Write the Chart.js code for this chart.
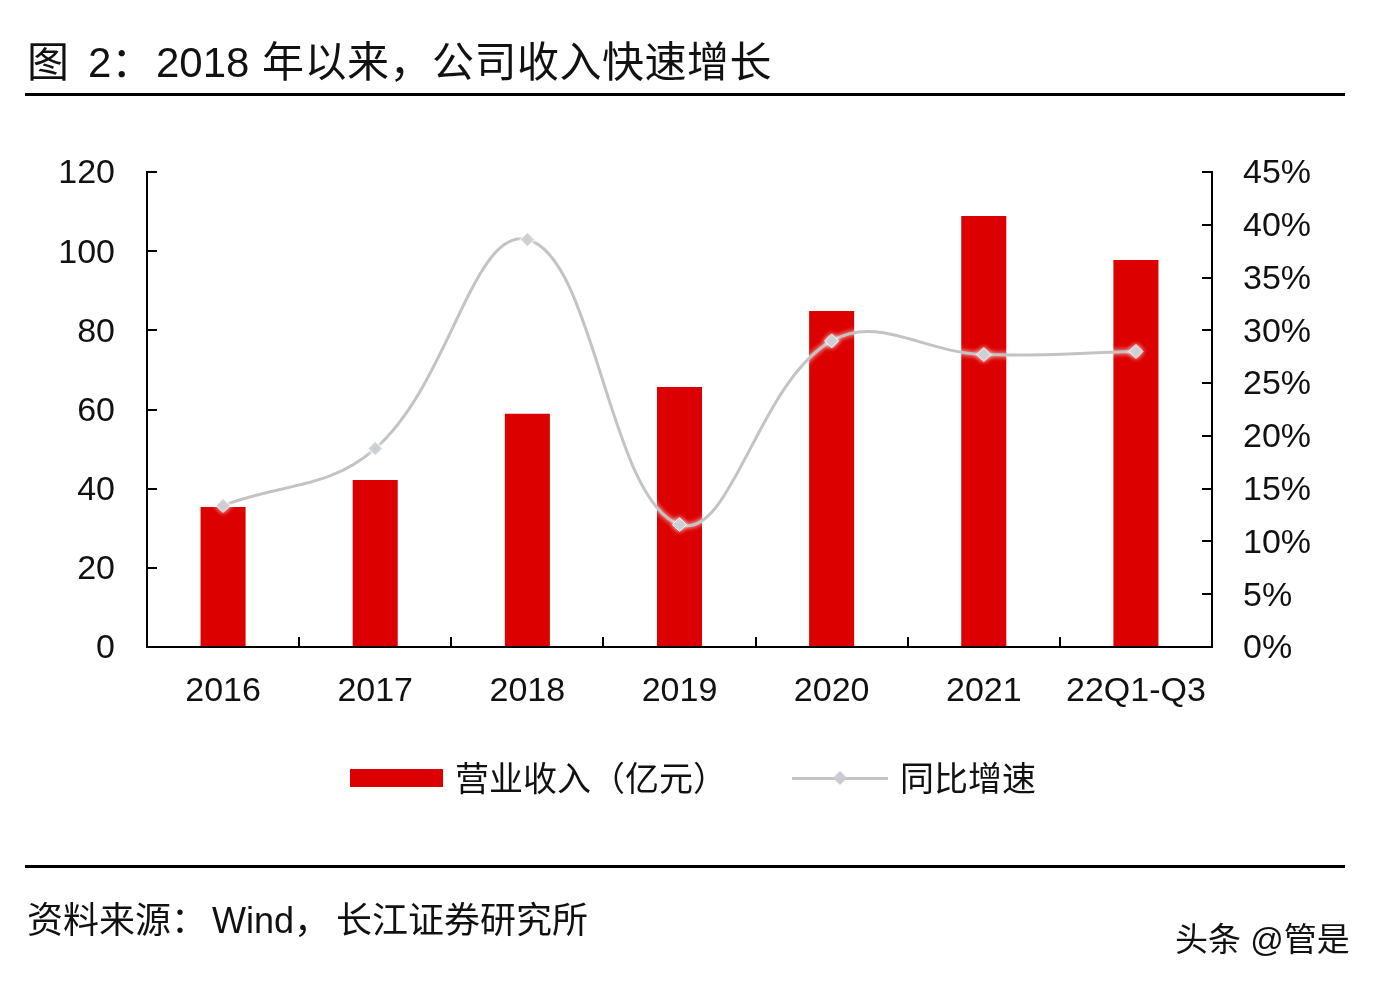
<!DOCTYPE html>
<html>
<head>
<meta charset="utf-8">
<script src="https://cdn.jsdelivr.net/npm/chart.js@4.4.1/dist/chart.umd.min.js"></script>
<style>
  html, body { margin:0; padding:0; background:#ffffff; }
  #wrap { position:relative; width:1386px; height:986px; overflow:hidden; background:#ffffff;
          font-family:"Liberation Sans","Noto Sans CJK SC",sans-serif; color:#111; }
  #c { position:absolute; left:0; top:0; }
  .t { position:absolute; white-space:nowrap; line-height:1; }
  .rule { position:absolute; left:25px; width:1320px; height:3px; background:#000; }
</style>
</head>
<body>
<div id="wrap">
  <canvas id="c" width="1386" height="986"></canvas>
  <div class="t" style="left:27px;top:42px;font-size:42px;">图</div>
  <div class="t" style="left:88px;top:42px;font-size:42px;">2：</div>
  <div class="t" style="left:156px;top:42px;font-size:42px;">2018</div>
  <div class="t" style="left:262px;top:42px;font-size:42px;letter-spacing:0.5px;">年以来，公司收入快速增长</div>
  <div class="rule" style="top:93px;"></div>

  <div style="position:absolute;left:350px;top:769px;width:93px;height:18px;background:#dc0000;"></div>
  <div class="t" style="left:455px;top:762px;font-size:34px;">营业收入（亿元）</div>
  <div style="position:absolute;left:792px;top:777px;width:96px;height:3px;background:#c4c4c4;"></div>
  <div style="position:absolute;left:835px;top:773px;width:10px;height:10px;background:#c9cdd2;transform:rotate(45deg);"></div>
  <div class="t" style="left:900px;top:762px;font-size:34px;">同比增速</div>

  <div class="rule" style="top:865px;"></div>
  <div class="t" style="left:27px;top:903px;font-size:36px;">资料来源：</div>
  <div class="t" style="left:212px;top:903px;font-size:36px;">Wind，</div>
  <div class="t" style="left:336px;top:903px;font-size:36px;">长江证券研究所</div>

  <div class="t" style="left:1175px;top:923px;font-size:33px;color:#111;text-shadow:0 0 2px #fff,0 0 2px #fff;">头条 @管是</div>
</div>
<script>
const categories = ['2016', '2017', '2018', '2019', '2020', '2021', '22Q1-Q3'];
const revenue = [35.4, 42.2, 58.9, 65.7, 84.9, 108.9, 97.8];
const growthPct = [13.4, 18.8, 38.6, 11.6, 29.0, 27.7, 28.0];
const leftTicks = [0, 20, 40, 60, 80, 100, 120];
const rightTicks = [0, 5, 10, 15, 20, 25, 30, 35, 40, 45];

const FONT = '"Liberation Sans","Noto Sans CJK SC",sans-serif';

const glowPlugin = {
  id: 'glow',
  beforeDatasetDraw(chart, args) {
    if (args.meta.type === 'line') {
      const ctx = chart.ctx;
      ctx.save();
      ctx.shadowColor = 'rgba(255,255,255,0.95)';
      ctx.shadowBlur = 5;
    }
  },
  afterDatasetDraw(chart, args) {
    if (args.meta.type === 'line') chart.ctx.restore();
  }
};

new Chart(document.getElementById('c'), {
  type: 'bar',
  data: {
    labels: categories,
    datasets: [
      {
        type: 'line',
        label: '同比增速',
        data: growthPct,
        yAxisID: 'y1',
        borderColor: '#c3c3c3',
        borderWidth: 3,
        tension: 0.4,
        pointStyle: 'rectRot',
        pointRadius: 7,
        pointBackgroundColor: '#c9cdd2',
        pointBorderColor: 'rgba(255,255,255,0.8)',
        pointBorderWidth: 1,
        order: 0
      },
      {
        type: 'bar',
        label: '营业收入（亿元）',
        data: revenue,
        yAxisID: 'y',
        backgroundColor: '#dc0000',
        categoryPercentage: 1,
        barPercentage: 0.296,
        order: 1
      }
    ]
  },
  options: {
    responsive: false,
    animation: false,
    devicePixelRatio: 1,
    layout: { padding: { top: 172, bottom: 259, left: 0, right: 0 } },
    plugins: { legend: { display: false }, tooltip: { enabled: false } },
    scales: {
      x: {
        afterFit(s) { s.height = 80; },
        grid: { drawOnChartArea: false, tickLength: -10, color: '#000', lineWidth: 2 },
        border: { color: '#000', width: 2 },
        ticks: { padding: 34, color: '#111', font: { family: FONT, size: 34 } }
      },
      y: {
        position: 'left',
        min: 0, max: 120,
        afterFit(s) { s.width = 147; },
        afterBuildTicks(s) { s.ticks = leftTicks.map(v => ({ value: v })); },
        grid: { drawOnChartArea: false, tickLength: -10, color: '#000', lineWidth: 2 },
        border: { color: '#000', width: 2 },
        ticks: { padding: 42, labelOffset: 2, color: '#111', font: { family: FONT, size: 34 } }
      },
      y1: {
        position: 'right',
        min: 0, max: 45,
        afterFit(s) { s.width = 174; },
        afterBuildTicks(s) { s.ticks = rightTicks.map(v => ({ value: v })); },
        grid: { drawOnChartArea: false, tickLength: -10, color: '#000', lineWidth: 2 },
        border: { color: '#000', width: 2 },
        ticks: { padding: 41, labelOffset: 2, color: '#111', font: { family: FONT, size: 34 },
                 callback: v => v + '%' }
      }
    }
  },
  plugins: [glowPlugin]
});
</script>
</body>
</html>
